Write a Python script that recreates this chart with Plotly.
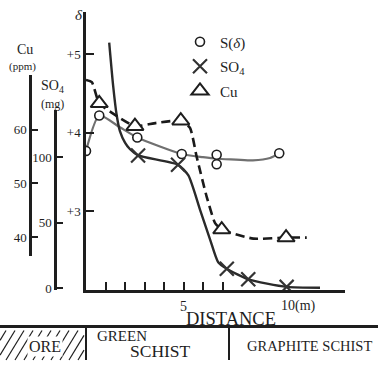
import plotly.graph_objects as go

W, H = 378, 366
FONT = "Liberation Serif"
INK = "#1e1e1e"

# ---------------- data ----------------
# distance in metres
s_x = [0.0, 0.68, 2.63, 4.91, 6.70, 6.70, 9.91]
s_delta = [3.77, 4.22, 3.94, 3.73, 3.72, 3.60, 3.74]
s_line_x = [0.0, 0.68, 1.74, 2.63, 4.91, 6.0, 6.7, 7.69, 8.56, 9.44, 9.91]
s_line_delta = [3.77, 4.22, 4.07, 3.94, 3.73, 3.69, 3.67, 3.66, 3.65, 3.68, 3.74]

so4_x = [2.67, 4.72, 7.22, 8.32, 10.29]
so4_mg = [101.5, 94.4, 14.8, 6.8, 1.0]
so4_line_x = [1.19, 1.39, 1.57, 1.74, 2.0, 2.26, 2.67, 4.72, 5.25, 5.85, 6.36, 6.78, 7.22, 8.32, 10.29, 12.0]
so4_line_mg = [187.7, 155.1, 132.6, 120.1, 111.3, 106.2, 101.5, 94.4, 86.2, 59.9, 37.4, 19.8, 14.8, 6.8, 1.0, 0.3]

cu_x = [0.68, 2.51, 4.86, 6.96, 10.26]
cu_ppm = [64.95, 60.68, 61.7, 41.4, 39.9]
cu_line_x = [0.0, 0.3, 0.68, 1.74, 2.51, 3.62, 4.86, 5.33, 5.68, 6.19, 6.62, 6.96, 8.58, 10.26, 11.32]
cu_line_ppm = [69.3, 68.9, 64.95, 62.2, 60.68, 61.3, 61.7, 60.4, 54.9, 47.5, 42.6, 41.4, 39.7, 39.9, 39.9]

delta_ticks = [3, 4, 5]
delta_ticktext = ["+3", "+4", "+5"]
so4_ticks = [0, 50, 100]
cu_ticks = [40, 50, 60]
x_minor_ticks = [1, 2, 3, 4, 5, 6, 7]

# ---------------- geometry (pixels) ----------------
def px(x):
    return x / W

def py(y):
    return 1 - y / H

PLOT_L, PLOT_R, PLOT_T, PLOT_B = 86, 345, 12, 295
X_PX_PER_M = 19.5

def axis_range(bottom_px, top_px, ref_val, ref_px, px_per_unit):
    return [ref_val - (bottom_px - ref_px) / px_per_unit,
            ref_val + (ref_px - top_px) / px_per_unit]

delta_range = axis_range(PLOT_B, PLOT_T, 4, 135, 80)
so4_scale = dict(ref_val=0, ref_px=293, px_per_unit=1.33)
cu_scale = dict(ref_val=60, ref_px=132, px_per_unit=5.45)
SO4_AX = dict(x=55, top=112, bottom=295)
CU_AX = dict(x=30, top=76, bottom=260)

fig = go.Figure()

# lines
fig.add_trace(go.Scatter(x=s_line_x, y=s_line_delta, mode="lines", yaxis="y",
                         line=dict(color="#707070", width=2.2, shape="spline", smoothing=0.6),
                         showlegend=False, hoverinfo="skip"))
fig.add_trace(go.Scatter(x=so4_line_x, y=so4_line_mg, mode="lines", yaxis="y2",
                         line=dict(color="#2a2a2a", width=2.4, shape="spline", smoothing=0.6),
                         showlegend=False, hoverinfo="skip"))
fig.add_trace(go.Scatter(x=cu_line_x, y=cu_line_ppm, mode="lines", yaxis="y3",
                         line=dict(color="#1a1a1a", width=2.6, dash="9px,5px", shape="spline", smoothing=0.5),
                         showlegend=False, hoverinfo="skip"))
# markers
fig.add_trace(go.Scatter(x=s_x, y=s_delta, mode="markers", yaxis="y", name="S(<i>δ</i>)",
                         legendgroup="a",
                         marker=dict(symbol="circle", size=9, color="white",
                                     line=dict(color=INK, width=1.6))))
fig.add_trace(go.Scatter(x=so4_x, y=so4_mg, mode="markers", yaxis="y2", name="SO<sub>4</sub>",
                         legendgroup="b",
                         marker=dict(symbol="x-thin-open", size=14, color="#333",
                                     line=dict(color="#333", width=2.2))))
fig.add_trace(go.Scatter(x=cu_x, y=cu_ppm, mode="markers", yaxis="y3", name="Cu",
                         legendgroup="c",
                         marker=dict(symbol="triangle-up", size=15, color="white",
                                     line=dict(color=INK, width=2))))
# empty traces so the display axes are drawn
fig.add_trace(go.Scatter(x=[], y=[], yaxis="y4", showlegend=False))
fig.add_trace(go.Scatter(x=[], y=[], yaxis="y5", showlegend=False))

axis_common = dict(showgrid=False, zeroline=False, showline=True, linecolor=INK,
                   ticks="inside", tickcolor=INK,
                   tickfont=dict(family=FONT, size=13, color=INK))

fig.update_layout(
    width=W, height=H, margin=dict(l=0, r=0, t=0, b=0),
    paper_bgcolor="white", plot_bgcolor="rgba(0,0,0,0)",
    font=dict(family=FONT, color=INK),
    xaxis=dict(domain=[px(PLOT_L), px(PLOT_R)],
               range=[0, (PLOT_R - PLOT_L) / X_PX_PER_M],
               showgrid=False, zeroline=False, showline=True, linecolor=INK, linewidth=2.5,
               ticks="inside", tickcolor=INK, ticklen=8, tickwidth=1.5,
               tickvals=x_minor_ticks, showticklabels=False, anchor="y"),
    yaxis=dict(domain=[py(PLOT_B), py(PLOT_T)], range=delta_range,
               tickvals=delta_ticks, ticktext=delta_ticktext, ticklen=8, tickwidth=1.5,
               linewidth=2.5, anchor="x", **axis_common),
    yaxis2=dict(overlaying="y", visible=False,
                range=axis_range(PLOT_B, PLOT_T, **so4_scale)),
    yaxis3=dict(overlaying="y", visible=False,
                range=axis_range(PLOT_B, PLOT_T, **cu_scale)),
    yaxis4=dict(domain=[py(SO4_AX["bottom"]), py(SO4_AX["top"])],
                range=axis_range(SO4_AX["bottom"], SO4_AX["top"], **so4_scale),
                anchor="free", position=px(SO4_AX["x"]), side="left",
                tickvals=so4_ticks, ticklen=6, tickwidth=2, linewidth=2.5, **axis_common),
    yaxis5=dict(domain=[py(CU_AX["bottom"]), py(CU_AX["top"])],
                range=axis_range(CU_AX["bottom"], CU_AX["top"], **cu_scale),
                anchor="free", position=px(CU_AX["x"]), side="left",
                tickvals=cu_ticks, ticklen=6, tickwidth=1.5, linewidth=2.5, **axis_common),
    legend=dict(x=px(180), y=py(26), xanchor="left", yanchor="top",
                font=dict(family=FONT, size=15, color=INK),
                bgcolor="rgba(0,0,0,0)", tracegroupgap=2, itemsizing="trace"),
    showlegend=True,
)

ann = []
def text(x, y, s, size, **kw):
    ann.append(dict(x=px(x), y=py(y), xref="paper", yref="paper", text=s, showarrow=False,
                    font=dict(family=FONT, size=size, color=INK),
                    xanchor=kw.pop("xanchor", "center"), yanchor="middle", **kw))

text(79, 15, "<i>δ</i>", 15)
text(25, 50, "Cu", 14)
text(22, 68, "(ppm)", 11)
text(52, 88, "SO<sub>4</sub>", 14)
text(52, 106, "(mg)", 12)
text(183, 312, "5", 14)
text(298, 311, "10(m)", 14)
text(231, 324, "DISTANCE", 18.5)
text(45, 352, "ORE", 16, bgcolor="white")
text(122, 342, "GREEN", 15)
text(160, 357, "SCHIST", 17.5)
text(309, 352, "GRAPHITE SCHIST", 14.5)
fig.update_layout(annotations=ann)

shapes = []
def seg(x0, y0, x1, y1, w=2):
    shapes.append(dict(type="line", xref="paper", yref="paper",
                       x0=px(x0), y0=py(y0), x1=px(x1), y1=py(y1),
                       line=dict(color=INK, width=w)))

seg(0, 332, 378, 332, 3)
seg(86, 332, 86, 366, 2)
seg(229, 332, 229, 366, 2)
for hx in range(-12, 84, 9):
    x0, x1 = hx, hx + 18
    y0, y1 = 366, 336
    if x0 < 0:
        y0 = 366 - (0 - x0) * 30 / 18
        x0 = 0
    if x1 > 84:
        y1 = 336 + (x1 - 84) * 30 / 18
        x1 = 84
    seg(x0, y0, x1, y1, 1.2)
fig.update_layout(shapes=shapes)

fig.write_html("out.html")
